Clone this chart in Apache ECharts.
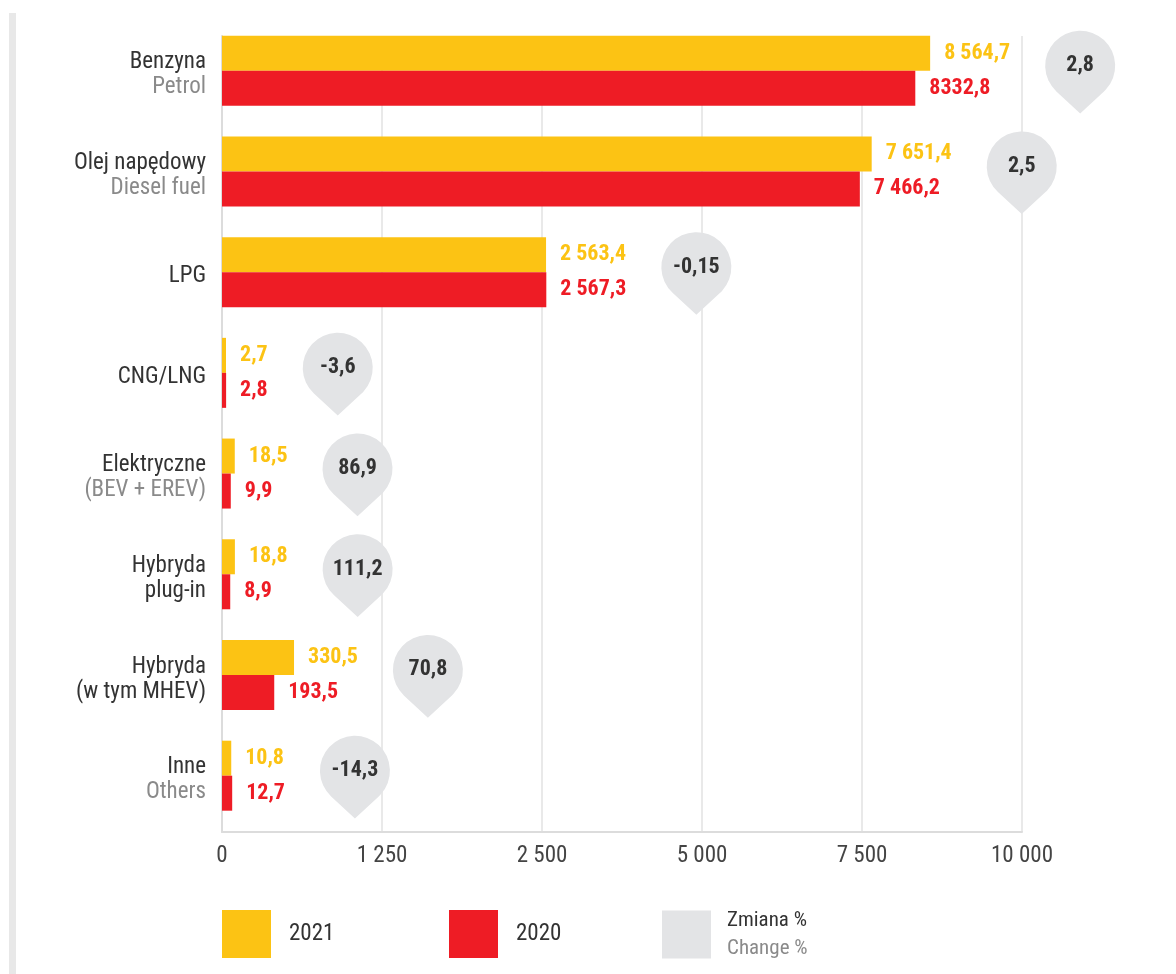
<!DOCTYPE html>
<html>
<head>
<meta charset="utf-8">
<title>Paliwa 2021 / 2020</title>
<script src="https://cdn.jsdelivr.net/npm/echarts@6/dist/echarts.min.js"></script>
<style>
  html, body { margin: 0; padding: 0; background: #fff; }
  #edge { position: absolute; left: 9px; top: 13px; bottom: 0; width: 7px; background: #e8e8e8; }
  #chart { width: 1176px; height: 974px; }
</style>
</head>
<body>
<div id="edge"></div>
<div id="chart"></div>
<script>
const categories = ['Benzyna', 'Olej napędowy', 'LPG', 'CNG/LNG', 'Elektryczne', 'Hybryda\nplug-in', 'Hybryda\n(w tym MHEV)', 'Inne']
const subtitles = ['Petrol', 'Diesel fuel', '', '', '(BEV + EREV)', '', '', 'Others']
const values2021 = [8564.7, 7651.4, 2563.4, 2.7, 18.5, 18.8, 330.5, 10.8]
const values2020 = [8332.8, 7466.2, 2567.3, 2.8, 9.9, 8.9, 193.5, 12.7]
const labels2021 = ['8 564,7', '7 651,4', '2 563,4', '2,7', '18,5', '18,8', '330,5', '10,8']
const labels2020 = ['8332,8', '7 466,2', '2 567,3', '2,8', '9,9', '8,9', '193,5', '12,7']
const changes = [2.8, 2.5, -0.15, -3.6, 86.9, 111.2, 70.8, -14.3]
const tickValues = [0, 1250, 2500, 5000, 7500, 10000]
const tickLabels = ['0', '1 250', '2 500', '5 000', '7 500', '10 000']
const seriesNames = ['2021', '2020', 'Zmiana %']
const changeSubtitle = 'Change %'

const FONT = '"Liberation Sans Narrow", "Roboto Condensed", Roboto, sans-serif'
const YELLOW = '#fcc314'
const RED = '#ee1c25'
const PIN = '#e3e4e6'
const DARK = '#333333'
const GREY = '#8a8a8a'
const GRID_LEFT = 222
const GRID_WIDTH = 800
const UNIT = GRID_WIDTH / (tickValues.length - 1)
const LABEL_GAP = 14
const PIN_R = 35

// every tick step has the same length on the axis; the first step is
// stretched (power 0.6) so the tiny values stay visible, as in the print
function toAxis (v) {
  for (let k = 0; k < tickValues.length - 1; k++) {
    const a = tickValues[k]
    const b = tickValues[k + 1]
    if (v <= b || k === tickValues.length - 2) {
      const t = (v - a) / (b - a)
      return k + (k === 0 ? Math.pow(t, 0.6) : t)
    }
  }
}

function fmtChange (v) {
  return String(v).replace('.', ',')
}

// pin sits right after the further of the two value labels
const ctx = document.createElement('canvas').getContext('2d')
ctx.font = 'bold 22px ' + FONT
const pinData = categories.map((c, i) => {
  const ends = [[values2021[i], labels2021[i]], [values2020[i], labels2020[i]]].map(([v, t]) => {
    const x = toAxis(v)
    return { x: x, end: x * UNIT + LABEL_GAP + ctx.measureText(t).width }
  })
  const far = ends[0].end >= ends[1].end ? ends[0] : ends[1]
  return {
    value: [far.x, i],
    symbolOffset: [far.end - far.x * UNIT + PIN_R + PIN_R, 1.35]
  }
})

const barLabel = (color, texts) => ({
  show: true,
  position: 'right',
  distance: LABEL_GAP,
  formatter: (p) => texts[p.dataIndex],
  color: color,
  fontWeight: 'bold',
  fontSize: 22,
  fontFamily: FONT
})

const legendBase = {
  top: 910,
  padding: 0,
  itemWidth: 49,
  itemHeight: 48,
  selectedMode: false,
  icon: 'rect',
  textStyle: { color: DARK, fontSize: 23, fontFamily: FONT, padding: [0, 0, 0, 13] }
}

const option = {
  animation: false,
  grid: [
    { left: GRID_LEFT, width: GRID_WIDTH, top: 20.35, height: 805.7 },
    { left: GRID_LEFT, width: GRID_WIDTH, top: 36, height: 796 }
  ],
  xAxis: [
    { type: 'value', gridIndex: 0, min: 0, max: tickValues.length - 1, interval: 1, show: false },
    {
      type: 'value',
      gridIndex: 1,
      min: 0,
      max: tickValues.length - 1,
      interval: 1,
      axisLine: { show: true, lineStyle: { color: '#dcdcdc', width: 2 } },
      axisTick: { show: false },
      splitLine: { lineStyle: { color: '#e2e2e2', width: 1.5 } },
      axisLabel: {
        formatter: (v) => tickLabels[v],
        color: '#444',
        fontSize: 23,
        fontFamily: FONT,
        margin: 13
      }
    }
  ],
  yAxis: [
    {
      type: 'category',
      gridIndex: 0,
      inverse: true,
      data: categories,
      axisLine: { show: false },
      axisTick: { show: false },
      splitLine: { show: false },
      axisLabel: {
        margin: 16,
        padding: [9, 0, 0, 0],
        formatter: (name, i) => {
          let s = name.split('\n').map((t) => '{pl|' + t + '}').join('\n')
          if (subtitles[i]) s += '\n{en|' + subtitles[i] + '}'
          return s
        },
        rich: {
          pl: { color: DARK, fontSize: 23, lineHeight: 25, fontFamily: FONT },
          en: { color: GREY, fontSize: 23, lineHeight: 25, fontFamily: FONT }
        }
      }
    },
    {
      type: 'category',
      gridIndex: 1,
      data: [''],
      axisLine: { show: true, lineStyle: { color: '#dcdcdc', width: 2 } },
      axisTick: { show: false },
      axisLabel: { show: false },
      splitLine: { show: false }
    }
  ],
  legend: [
    Object.assign({}, legendBase, { left: 222, data: [seriesNames[0]] }),
    Object.assign({}, legendBase, { left: 449, data: [seriesNames[1]] }),
    Object.assign({}, legendBase, {
      left: 662,
      data: [seriesNames[2]],
      formatter: (name) => '{a|' + name + '}\n{b|' + changeSubtitle + '}',
      textStyle: {
        padding: [0, 0, 0, 11],
        rich: {
          a: { color: DARK, fontSize: 21, lineHeight: 28, fontFamily: FONT },
          b: { color: GREY, fontSize: 21, lineHeight: 28, fontFamily: FONT }
        }
      }
    })
  ],
  series: [
    {
      name: seriesNames[0],
      type: 'bar',
      xAxisIndex: 0,
      yAxisIndex: 0,
      data: values2021.map(toAxis),
      barWidth: 35,
      barGap: '0%',
      itemStyle: { color: YELLOW },
      label: barLabel(YELLOW, labels2021)
    },
    {
      name: seriesNames[1],
      type: 'bar',
      xAxisIndex: 0,
      yAxisIndex: 0,
      data: values2020.map(toAxis),
      barWidth: 35,
      barGap: '0%',
      itemStyle: { color: RED },
      label: barLabel(RED, labels2020)
    },
    {
      name: seriesNames[2],
      type: 'scatter',
      xAxisIndex: 0,
      yAxisIndex: 0,
      data: pinData,
      clip: false,
      z: 3,
      symbol: 'path://M11.2 60.7A35 35 0 1 1 58.8 60.7L35 82.7Z',
      symbolSize: [70, 82.7],
      itemStyle: { color: PIN, opacity: 1 },
      label: {
        show: true,
        position: 'inside',
        offset: [0, -6.35],
        formatter: (p) => fmtChange(changes[p.dataIndex]),
        color: DARK,
        fontWeight: 'bold',
        fontSize: 22,
        fontFamily: FONT
      }
    }
  ]
}

const chart = echarts.init(document.getElementById('chart'))
chart.setOption(option)
window.addEventListener('resize', () => chart.resize())
</script>
</body>
</html>
